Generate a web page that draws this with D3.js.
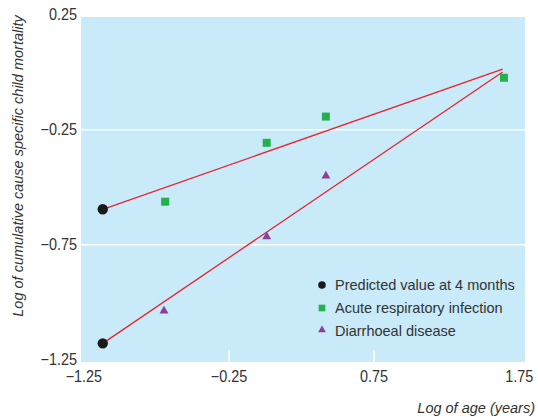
<!DOCTYPE html>
<html>
<head>
<meta charset="utf-8">
<script src="https://cdn.jsdelivr.net/npm/d3@7"></script>
<style>
  body { margin: 0; background: #fff; }
  svg text { font-family: "Liberation Sans", Arial, sans-serif; fill: #333; }
</style>
</head>
<body>
<div id="chart"></div>
<script>
var width = 538;
var height = 417;

// plot edges in data units
var xDomain = [-1.27, 1.79];
var yDomain = [-1.26, 0.24];
var xTicks = [-1.25, -0.25, 0.75, 1.75];
var yTicks = [0.25, -0.25, -0.75, -1.25];
var xGrid = [-0.25, 0.75];
var yGrid = [-0.25, -0.75];

// Predicted value at 4 months
var predX = [-1.12, -1.12];
var predY = [-0.596, -1.179];

// Acute respiratory infection
var ariX = [-0.69, 0.01, 0.418, 1.645];
var ariY = [-0.563, -0.307, -0.193, -0.024];

// Diarrhoeal disease
var diaX = [-0.698, 0.01, 0.418];
var diaY = [-1.038, -0.715, -0.451];

// fitted lines (start, end)
var ariLine = [[-1.12, -0.596], [1.636, 0.013]];
var diaLine = [[-1.12, -1.179], [1.636, 0.001]];

var legendLabels = ["Predicted value at 4 months", "Acute respiratory infection", "Diarrhoeal disease"];

var pLeft = 81, pRight = 525, pTop = 17, pBottom = 362;

var svg = d3.select("#chart").append("svg")
  .attr("width", width)
  .attr("height", height);

var x = d3.scaleLinear().domain(xDomain).range([pLeft, pRight]);
var y = d3.scaleLinear().domain(yDomain).range([pBottom, pTop]);

svg.append("rect")
  .attr("x", pLeft).attr("y", pTop)
  .attr("width", pRight - pLeft).attr("height", pBottom - pTop)
  .attr("fill", "#c8eaf9");

// white ticks: short ones at the bottom for x, full width for y
svg.selectAll(".gx").data(xGrid).enter().append("line")
  .attr("x1", function(d) { return x(d); }).attr("x2", function(d) { return x(d); })
  .attr("y1", pBottom - 12).attr("y2", pBottom)
  .attr("stroke", "#fff").attr("stroke-width", 1.5);
svg.selectAll(".gy").data(yGrid).enter().append("line")
  .attr("y1", function(d) { return y(d); }).attr("y2", function(d) { return y(d); })
  .attr("x1", pLeft).attr("x2", pRight)
  .attr("stroke", "#fff").attr("stroke-width", 1.5);

// tick labels (slightly condensed)
svg.selectAll(".xt").data(xTicks).enter().append("text")
  .attr("transform", function(d) { return "translate(" + x(d) + ",382) scale(0.9,1)"; })
  .attr("text-anchor", "middle")
  .attr("font-size", 16)
  .text(function(d) { return d3.format(".2f")(d); });
svg.selectAll(".yt").data(yTicks).enter().append("text")
  .attr("transform", function(d) { return "translate(77," + (y(d) + 5.5) + ") scale(0.9,1)"; })
  .attr("text-anchor", "end")
  .attr("font-size", 16)
  .text(function(d) { return d3.format(".2f")(d); });

// axis titles
svg.append("text")
  .attr("x", 535).attr("y", 413)
  .attr("text-anchor", "end")
  .attr("font-size", 14.5)
  .attr("font-style", "italic")
  .text("Log of age (years)");
svg.append("text")
  .attr("transform", "translate(23,166) rotate(-90)")
  .attr("text-anchor", "middle")
  .attr("font-size", 14.5)
  .attr("font-style", "italic")
  .text("Log of cumulative cause specific child mortality");

// fitted lines
var line = d3.line().x(function(d) { return x(d[0]); }).y(function(d) { return y(d[1]); });
[ariLine, diaLine].forEach(function(l) {
  svg.append("path").attr("d", line(l))
    .attr("fill", "none").attr("stroke", "#e8242c").attr("stroke-width", 1.3);
});

var green = "#22b24c", purple = "#8a3f98", black = "#1a1a1a";
var sq = d3.symbol().type(d3.symbolSquare).size(64);
var tri = d3.symbol().type(d3.symbolTriangle).size(34);

svg.selectAll(".ari").data(d3.range(ariX.length)).enter().append("path")
  .attr("d", sq)
  .attr("transform", function(i) { return "translate(" + x(ariX[i]) + "," + y(ariY[i]) + ")"; })
  .attr("fill", green);

svg.selectAll(".dia").data(d3.range(diaX.length)).enter().append("path")
  .attr("d", tri)
  .attr("transform", function(i) { return "translate(" + x(diaX[i]) + "," + y(diaY[i]) + ")"; })
  .attr("fill", purple);

svg.selectAll(".pred").data(d3.range(predX.length)).enter().append("circle")
  .attr("cx", function(i) { return x(predX[i]); })
  .attr("cy", function(i) { return y(predY[i]); })
  .attr("r", 5.2)
  .attr("fill", black);

// legend
var lg = svg.append("g").attr("transform", "translate(322,285)");
var rowH = 23;
lg.append("circle").attr("cx", 0).attr("cy", 0).attr("r", 3.8).attr("fill", black);
lg.append("path").attr("d", d3.symbol().type(d3.symbolSquare).size(44))
  .attr("transform", "translate(0," + rowH + ")").attr("fill", green);
lg.append("path").attr("d", d3.symbol().type(d3.symbolTriangle).size(26))
  .attr("transform", "translate(0," + (2 * rowH - 1) + ")").attr("fill", purple);
lg.selectAll("text").data(legendLabels).enter().append("text")
  .attr("x", 13)
  .attr("y", function(d, i) { return i * rowH + 5; })
  .attr("font-size", 14.5)
  .text(function(d) { return d; });
</script>
</body>
</html>
